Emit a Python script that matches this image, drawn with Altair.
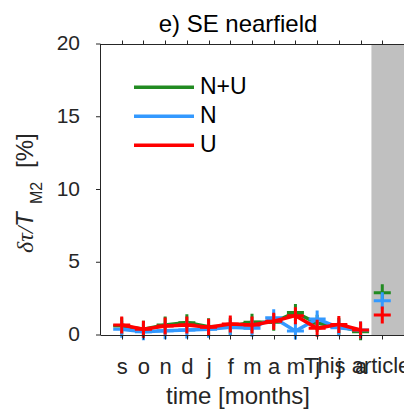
import altair as alt
import pandas as pd

months = ["s", "o", "n", "d", "j", "f", "m", "a", "m", "j", "j", "a"]
month_idx = list(range(1, 13))
nu_vals = [0.62, 0.39, 0.69, 0.85, 0.57, 0.60, 0.88, 0.88, 1.55, 0.80, 0.60, 0.23]
n_vals = [0.39, 0.23, 0.30, 0.34, 0.39, 0.53, 0.46, 1.18, 0.27, 1.10, 0.50, 0.34]
u_vals = [0.69, 0.39, 0.62, 0.69, 0.53, 0.76, 0.69, 0.95, 1.33, 0.46, 0.73, 0.34]
extra_idx = 13
extra_vals = {"N+U": 2.90, "N": 2.36, "U": 1.37}
series_names = ["N+U", "N", "U"]
series_colors = ["#228B22", "#3399FF", "#FF0000"]
shade_start, shade_end = 12.5, 14.0
y_ticks = [0, 5, 10, 15, 20]
x_ticks = list(range(1, 14))
title_text = "e) SE nearfield"
xlabel_text = "time [months]"
watermark_text = "This article is protected by copyright. All rights reserved."

FONT = "Liberation Sans"
AX = "#262626"

rows = []
for name, vals in zip(series_names, [nu_vals, n_vals, u_vals]):
    for i, v in zip(month_idx, vals):
        rows.append({"series": name, "idx": i, "val": v})
df = pd.DataFrame(rows)
df_extra = pd.DataFrame([{"series": k, "idx": extra_idx, "val": v} for k, v in extra_vals.items()])

xscale = alt.Scale(domain=[0, 14], nice=False, zero=False)
yscale = alt.Scale(domain=[0, 20], nice=False, zero=False)
cscale = alt.Scale(domain=series_names, range=series_colors)

label_arr = "[" + ",".join("'%s'" % m for m in months) + ",'']"

# shaded region, carries the top x axis
shade = alt.Chart(pd.DataFrame({"x": [shade_start], "x2": [shade_end], "y": [0], "y2": [20]})).mark_rect(
    color="#c0c0c0"
).encode(
    x=alt.X("x:Q", scale=xscale, axis=alt.Axis(orient="top", values=x_ticks, labels=False, title=None,
                                                tickSize=4, zindex=2, grid=False)),
    x2="x2:Q",
    y=alt.Y("y:Q", scale=yscale, axis=None),
    y2="y2:Q",
)

layers = [shade]

# left y axis: domain, ticks and labels through the y scale
ydf = pd.DataFrame({"v": y_ticks, "lab": [str(v) for v in y_ticks]})
layers.append(alt.Chart(pd.DataFrame({"a": [0], "b": [20]})).mark_rule(color=AX, strokeWidth=1).encode(
    x=alt.value(0.5), y=alt.Y("a:Q", scale=yscale, axis=None), y2="b:Q"))
layers.append(alt.Chart(ydf).mark_rule(color=AX, strokeWidth=1).encode(
    x=alt.value(-4), x2=alt.value(0.5), y=alt.Y("v:Q", scale=yscale, axis=None)))
layers.append(alt.Chart(ydf).mark_text(color=AX, fontSize=21, font=FONT, align="right", baseline="middle").encode(
    x=alt.value(-20), y=alt.Y("v:Q", scale=yscale, axis=None), text="lab:N"))

for k, name in enumerate(series_names):
    sub = df[df.series == name]
    if k == 0:
        xenc = alt.X("idx:Q", scale=xscale,
                     axis=alt.Axis(orient="bottom", values=x_ticks, title=None, tickSize=4, grid=False,
                                   labelExpr=label_arr + "[datum.value-1]", labelFontSize=22, labelFont=FONT,
                                   labelBaseline="alphabetic", labelPadding=34, labelAngle=0, zindex=2))
    else:
        xenc = alt.X("idx:Q", scale=xscale, axis=None)
    yenc = alt.Y("val:Q", scale=yscale, axis=None)
    line = alt.Chart(sub).mark_line(strokeWidth=3.5).encode(
        x=xenc, y=yenc,
        color=alt.Color("series:N", scale=cscale, legend=None),
    )
    pts = alt.Chart(pd.concat([sub, df_extra[df_extra.series == name]])).mark_point(
        shape="M-1,0L1,0M0,-1L0,1", size=289, strokeWidth=3, filled=False, opacity=1
    ).encode(
        x=alt.X("idx:Q", scale=xscale, axis=None),
        y=alt.Y("val:Q", scale=yscale, axis=None),
        color=alt.Color("series:N", scale=cscale, legend=None),
    )
    layers += [line, pts]


def txt(s, x, y, size, **kw):
    kw.setdefault("color", AX)
    return alt.Chart(pd.DataFrame({"t": [s]})).mark_text(fontSize=size, **kw).encode(
        x=alt.value(x), y=alt.value(y), text="t:N")


# legend
for k, (name, col) in enumerate(zip(series_names, series_colors)):
    ly = 43.3 + k * 29.0
    layers.append(alt.Chart(pd.DataFrame({"s": [name]})).mark_rule(color=col, strokeWidth=3.5).encode(
        x=alt.value(34), x2=alt.value(94), y=alt.value(ly)))
    layers.append(txt(name, 100, ly, 23, font=FONT, align="left", baseline="middle", color="#000000"))

layers.append(txt(title_text, 138, -12, 24, font=FONT, align="center", baseline="alphabetic", color="#000000"))
layers.append(txt(xlabel_text, 138, 360, 24, font=FONT, align="center", baseline="alphabetic"))
layers.append(txt(watermark_text, 204, 329, 22, font=FONT, align="left", baseline="alphabetic"))
# y label pieces
layers.append(txt("δτ/", -67, 209, 24, font="Liberation Serif", fontStyle="italic", angle=270,
                  align="left", baseline="alphabetic"))
layers.append(txt("T", -67, 183, 24, font=FONT, fontStyle="italic", angle=270, align="left", baseline="alphabetic"))
layers.append(txt("M2", -58, 160, 16, font=FONT, angle=270, align="left", baseline="alphabetic"))
layers.append(txt("[%]", -67, 124, 24, font=FONT, angle=270, align="left", baseline="alphabetic"))

chart = alt.layer(*layers).properties(
    width=304, height=291,
    autosize=alt.AutoSizeParams(type="none"),
    padding={"left": 100, "top": 44, "right": 0, "bottom": 78},
).configure_view(stroke=None).configure_axis(
    domainColor=AX, tickColor=AX, labelColor=AX, domainWidth=1, tickWidth=1
)

chart.save("out.html", embed_options={"renderer": "svg", "actions": False})
